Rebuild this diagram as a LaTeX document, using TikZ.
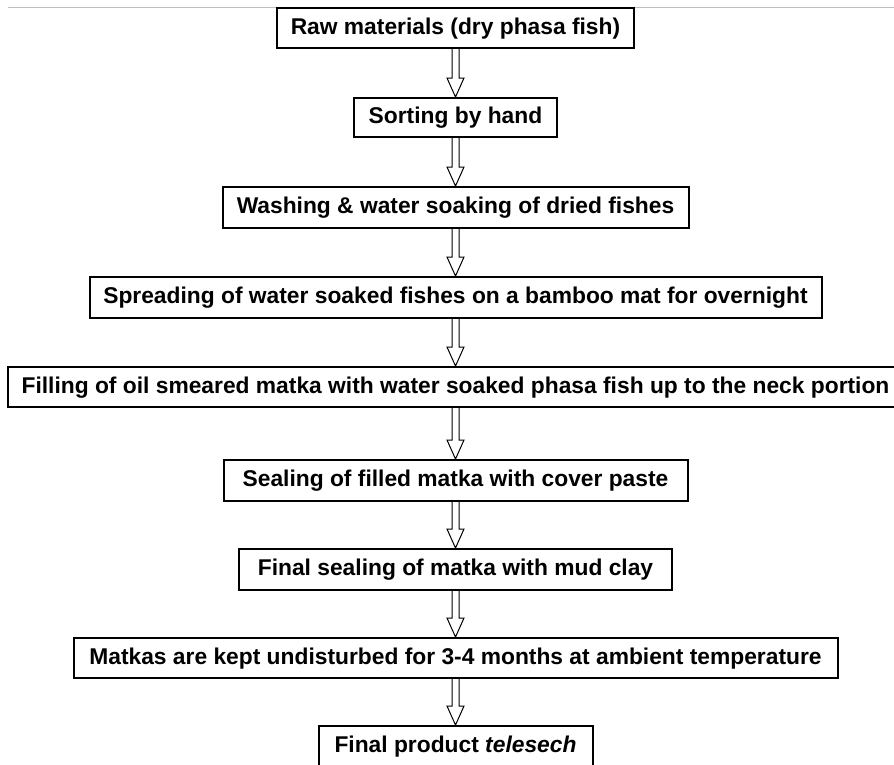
\documentclass[tikz,border=0pt]{standalone}
\usepackage{fontspec}
\setmainfont{Liberation Sans}
\usetikzlibrary{calc}
\definecolor{rulegray}{RGB}{190,190,190}
\tikzset{
  stepbox/.style={draw=black, line width=2pt, fill=white, inner sep=0pt,
    font=\bfseries\fontsize{22.8}{27}\selectfont, text height=17pt, text depth=5pt, align=center},
  blockarrow/.style={draw=black, fill=white, line width=1pt, line join=miter},
}
\newcommand\fcarrow[2]{%
  \draw[blockarrow] ($(#1.south)+(-3.5pt,0pt)$) -- ($(#2.north)+(-3.5pt,19pt)$)
    -- ($(#2.north)+(-8.5pt,19pt)$) -- (#2.north) -- ($(#2.north)+(8.5pt,19pt)$)
    -- ($(#2.north)+(3.5pt,19pt)$) -- ($(#1.south)+(3.5pt,0pt)$);}
\begin{document}
\begin{tikzpicture}[x=1pt,y=-1pt]
\useasboundingbox[fill=white] (0,0) rectangle (894,764);
\draw[rulegray, line width=1pt] (8,7) -- (894,7);
\node[stepbox, minimum width=357pt, minimum height=40pt] (s1) at (455.5,28) {Raw materials (dry phasa fish)};
\node[stepbox, minimum width=203pt, minimum height=39pt] (s2) at (455.5,117.5) {Sorting by hand};
\node[stepbox, minimum width=466pt, minimum height=41pt] (s3) at (455.5,207.5) {Washing \& water soaking of dried fishes};
\node[stepbox, minimum width=732pt, minimum height=41pt] (s4) at (455.5,297.5) {Spreading of water soaked fishes on a bamboo mat for overnight};
\node[stepbox, minimum width=895pt, minimum height=40pt] (s5) at (455.5,387) {Filling of oil smeared matka with water soaked phasa fish up to the neck portion};
\node[stepbox, minimum width=464pt, minimum height=41pt] (s6) at (455.5,480.5) {Sealing of filled matka with cover paste};
\node[stepbox, minimum width=433pt, minimum height=41pt] (s7) at (455.5,569.5) {Final sealing of matka with mud clay};
\node[stepbox, minimum width=764pt, minimum height=40pt] (s8) at (455.5,658) {Matkas are kept undisturbed for 3-4 months at ambient temperature};
\node[stepbox, minimum width=274pt, minimum height=40pt] (s9) at (455.5,746) {Final product \textit{telesech}};
\fcarrow{s1}{s2}
\fcarrow{s2}{s3}
\fcarrow{s3}{s4}
\fcarrow{s4}{s5}
\fcarrow{s5}{s6}
\fcarrow{s6}{s7}
\fcarrow{s7}{s8}
\fcarrow{s8}{s9}
\end{tikzpicture}
\end{document}
